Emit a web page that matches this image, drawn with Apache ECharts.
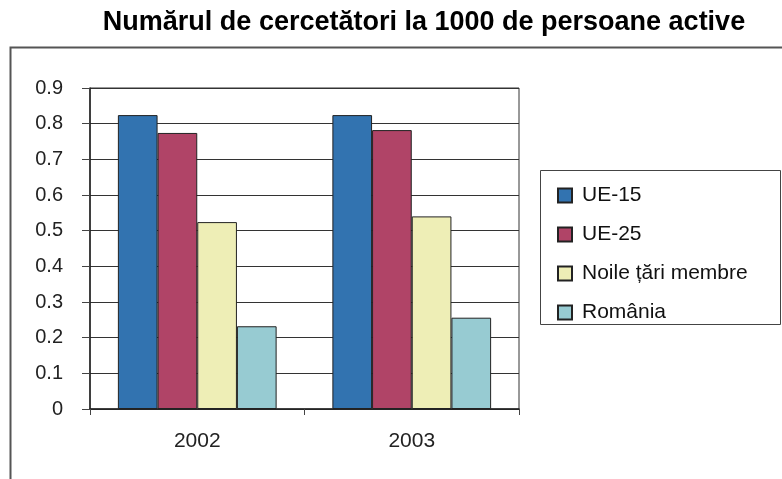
<!DOCTYPE html>
<html>
<head>
<meta charset="utf-8">
<script src="https://cdn.jsdelivr.net/npm/echarts@6/dist/echarts.min.js"></script>
<style>html,body{margin:0;padding:0;background:#fff;}#c{width:782px;height:479px;}</style>
</head>
<body>
<div id="c"></div>
<script>
const title = 'Numărul de cercetători la 1000 de persoane active';
const categories = ['2002', '2003'];
const seriesNames = ['UE-15', 'UE-25', 'Noile țări membre', 'România'];
const ue15 = [0.824, 0.824];
const ue25 = [0.774, 0.782];
const noile = [0.524, 0.540];
const romania = [0.232, 0.256];
const yTicks = [0, 0.1, 0.2, 0.3, 0.4, 0.5, 0.6, 0.7, 0.8, 0.9];

const colors = ['#3273B0', '#B04467', '#EEEEB6', '#97CBD2'];
const values = [ue15, ue25, noile, romania];
const font = '"Liberation Sans", Arial, sans-serif';

const chart = echarts.init(document.getElementById('c'), null, {renderer: 'canvas'});
chart.setOption({
  animation: false,
  backgroundColor: '#fff',
  title: {
    text: title, left: 419, textAlign: 'center', top: 4,
    textStyle: {fontFamily: font, fontWeight: 'bold', fontSize: 27, color: '#000'}
  },
  graphic: [
    {type: 'polyline', shape: {points: [[10.5, 479], [10.5, 47.5], [782, 47.5]]},
     style: {stroke: '#555', lineWidth: 2, fill: null}, silent: true},
    {type: 'rect', shape: {x: 540.5, y: 170.5, width: 240, height: 154},
     style: {stroke: '#444', lineWidth: 1, fill: '#fff'}, silent: true, z: 0}
  ],
  legend: {
    left: 552, top: 180, orient: 'vertical', itemGap: 18,
    itemWidth: 14, itemHeight: 14, icon: 'rect',
    textStyle: {fontFamily: font, fontSize: 21, color: '#111', padding: [0, 0, 0, 5]},
    data: seriesNames, z: 5
  },
  grid: {left: 90, right: 263, top: 88, bottom: 70, show: true, borderColor: '#333', borderWidth: 1},
  xAxis: {
    type: 'category', data: categories,
    axisLine: {lineStyle: {color: '#222', width: 1.5}},
    axisTick: {show: true, length: 6, lineStyle: {color: '#444'}},
    axisLabel: {fontFamily: font, fontSize: 21, color: '#222', margin: 22}
  },
  yAxis: {
    type: 'value', min: 0, max: 0.9, interval: 0.1,
    axisLine: {show: true, lineStyle: {color: '#222', width: 1.5}},
    axisTick: {show: true, length: 8, lineStyle: {color: '#444'}},
    splitLine: {lineStyle: {color: '#333', width: 1}},
    axisLabel: {fontFamily: font, fontSize: 20, color: '#222', margin: 27,
      formatter: v => { const t = yTicks.find(x => Math.abs(x - v) < 1e-9); return String(t !== undefined ? t : +v.toFixed(1)); }}
  },
  series: seriesNames.map((n, i) => ({
    name: n, type: 'bar', data: values[i],
    barGap: '0%', barCategoryGap: '26%',
    itemStyle: {color: colors[i], borderColor: '#222', borderWidth: 1}
  }))
});
</script>
</body>
</html>
